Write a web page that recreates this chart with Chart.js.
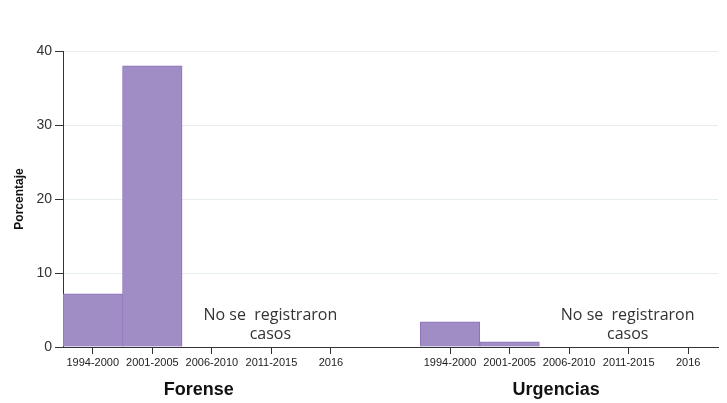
<!DOCTYPE html>
<html>
<head>
<meta charset="utf-8">
<script src="https://cdn.jsdelivr.net/npm/chart.js@4"></script>
<style>
  html, body { margin: 0; padding: 0; background: #fff; }
  #wrap { width: 727px; height: 403px; }
</style>
</head>
<body>
<div id="wrap"><canvas id="chart" width="727" height="403"></canvas></div>
<script>
const categories = ['1994-2000', '2001-2005', '2006-2010', '2011-2015', '2016'];
const groups = ['Forense', 'Urgencias'];
const forense = [7.2, 38, null, null, null];
const urgencias = [3.4, 0.7, null, null, null];
const yTicks = [0, 10, 20, 30, 40];
const noteLines = ['No se  registraron', 'casos'];

// one category axis, blank slot between the two groups
const labels = [...categories, '', ...categories];
const values = [...forense, null, ...urgencias];

const groupLabels = {
  id: 'groupLabels',
  afterDraw(chart) {
    const ctx = chart.ctx;
    const x = chart.scales.x;
    ctx.save();
    ctx.textAlign = 'center';
    ctx.textBaseline = 'middle';
    groups.forEach((g, i) => {
      const start = i * (categories.length + 1);
      const mid = x.getPixelForValue(start + 2);
      // no cases note, over the empty periods
      ctx.fillStyle = '#333';
      ctx.font = '16px "Open Sans"';
      const nx = x.getPixelForValue(start + 3);
      ctx.fillText(noteLines[0], nx - 1, 315);
      ctx.fillText(noteLines[1], nx - 1, 334);
      ctx.fillStyle = '#111';
      ctx.font = 'bold 18px "Liberation Sans", Arial';
      ctx.fillText(g, mid - 13, 390);
    });
    ctx.restore();
  }
};

new Chart(document.getElementById('chart').getContext('2d'), {
  type: 'bar',
  data: {
    labels: labels,
    datasets: [{
      data: values,
      backgroundColor: '#a18dc5',
      borderColor: '#8b72bb',
      borderWidth: 1,
      barPercentage: 1,
      categoryPercentage: 1
    }]
  },
  options: {
    responsive: false,
    animation: false,
    layout: { padding: { top: 51, right: 9, left: 0, bottom: 26 } },
    plugins: { legend: { display: false }, tooltip: { enabled: false } },
    scales: {
      x: {
        afterFit: s => { s.height = 30; },
        grid: {
          offset: false,
          drawOnChartArea: false,
          tickLength: 7,
          tickColor: c => labels[c.index] === '' ? 'rgba(0,0,0,0)' : '#333'
        },
        border: { color: '#333', width: 1 },
        ticks: {
          autoSkip: false,
          maxRotation: 0,
          padding: 2,
          color: '#222',
          font: { family: '"Liberation Sans", Arial', size: 11 }
        }
      },
      y: {
        min: yTicks[0],
        max: yTicks[yTicks.length - 1],
        afterFit: s => { s.width = 63; },
        afterBuildTicks: s => { s.ticks = yTicks.map(v => ({ value: v })); },
        grid: { color: '#e6edf0', tickColor: '#333', tickLength: 8 },
        border: { color: '#333', width: 1 },
        ticks: {
          padding: 3,
          color: '#333',
          font: { family: '"Liberation Sans", Arial', size: 14 }
        },
        title: {
          display: true,
          text: 'Porcentaje',
          color: '#111',
          padding: { top: 12 },
          font: { family: '"Liberation Sans", Arial', size: 12, weight: 'bold' }
        }
      }
    }
  },
  plugins: [groupLabels]
});
</script>
</body>
</html>
